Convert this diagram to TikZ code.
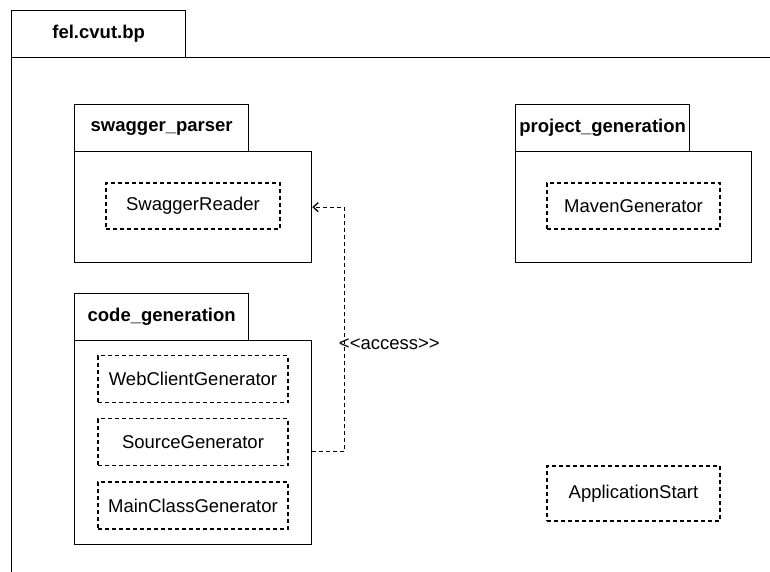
\documentclass[tikz,border=0pt]{standalone}
\usepackage{fontspec}
\setmainfont{Liberation Sans}
\usetikzlibrary{arrows.meta, positioning}
\tikzset{
  tab/.style={draw, line width=1.3pt, anchor=north west, minimum width=174pt, minimum height=47pt, inner sep=0pt, font=\fontsize{18.5}{22}\selectfont\bfseries},
  pkg/.style={draw, line width=1.3pt, anchor=north west, inner sep=0pt},
  cls/.style={draw, line width=1.3pt, dash pattern=on 4pt off 3pt, minimum width=174pt, minimum height=46pt, inner sep=0pt, font=\fontsize{18.5}{22}\selectfont},
  acc/.style={line width=1.3pt, dash pattern=on 4pt off 3pt, -{Straight Barb[length=5pt, width=9pt]}},
}
\begin{document}
\begin{tikzpicture}[x=1pt, y=-1pt]
    \useasboundingbox (0,0) rectangle (770,572);
    \clip (0,0) rectangle (770,572);
    \node[pkg, minimum width=800pt, minimum height=560pt] (felbody) at (11,57) {};
    \node[tab] (feltab) at (11,10) {fel.cvut.bp};
    \node[pkg, minimum width=237pt, minimum height=111pt] (swaggerbody) at (74,151) {};
    \node[tab] (swaggertab) at (74,104) {swagger\_parser};
    \node[pkg, minimum width=237pt, minimum height=204pt] (codebody) at (74,340) {};
    \node[tab] (codetab) at (74,293) {code\_generation};
    \node[pkg, minimum width=236pt, minimum height=111pt] (projectbody) at (515,151) {};
    \node[tab] (projecttab) at (515,104) {project\_generation};
    \node[cls] (reader) at (193,206) {SwaggerReader};
    \node[cls, minimum width=190pt, minimum height=47pt] (webclient) at (193,379) {WebClientGenerator};
    \node[cls, minimum width=190pt, minimum height=47pt] (source) at (193,442) {SourceGenerator};
    \node[cls, minimum width=190pt, minimum height=47pt] (mainclass) at (193,505.5) {MainClassGenerator};
    \node[cls, minimum width=173pt] (maven) at (633.5,206) {MavenGenerator};
    \node[cls, minimum width=173pt, minimum height=55pt] (appstart) at (633.5,493.5) {ApplicationStart};
    \draw[acc] ([yshift=-9pt]codebody.east) -- ++(32,0) |- node[pos=0.22, anchor=west, xshift=-6pt, inner sep=0pt, font=\fontsize{18.5}{22}\selectfont] {{<}{<}access{>}{>}} (swaggerbody.east);
  \end{tikzpicture}
\end{document}
